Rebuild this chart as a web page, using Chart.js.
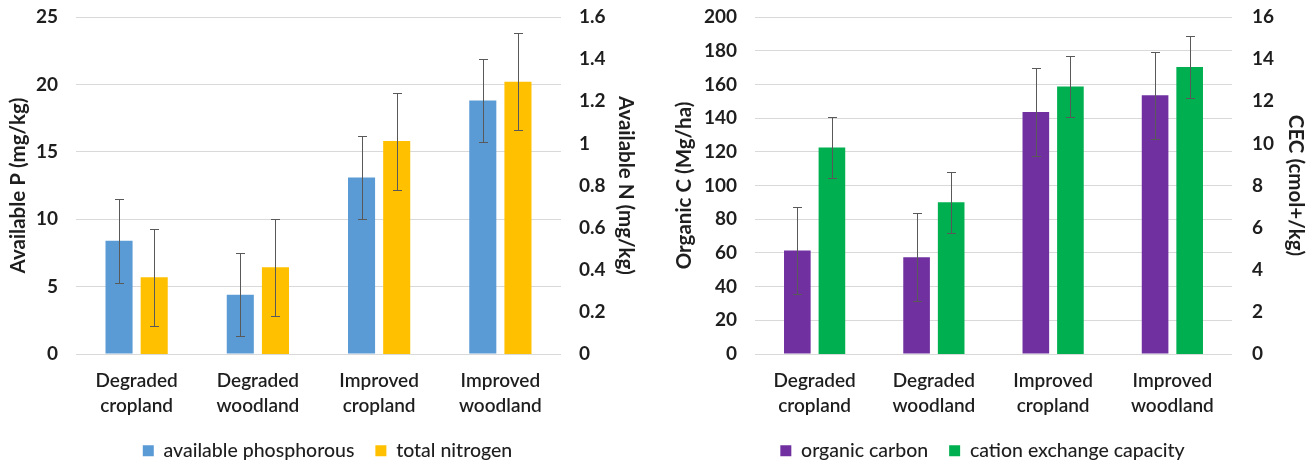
<!DOCTYPE html>
<html>
<head>
<meta charset="utf-8">
<script src="https://cdn.jsdelivr.net/npm/chart.js@4.4.1/dist/chart.umd.min.js"></script>
<style>
  html, body { margin: 0; padding: 0; background: #fff; }
  .wrap { display: flex; width: 1310px; height: 462px; }
  .box { position: relative; width: 655px; height: 462px; }
</style>
</head>
<body>
<div class="wrap">
  <div class="box"><canvas id="chartNP" width="655" height="462"></canvas></div>
  <div class="box"><canvas id="chartCEC" width="655" height="462"></canvas></div>
</div>
<script>
const categories = [["Degraded", "cropland"], ["Degraded", "woodland"], ["Improved", "cropland"], ["Improved", "woodland"]];

// left chart
const phosphorous = [8.4, 4.4, 13.1, 18.8];
const phosphorousErr = [3.1, 3.1, 3.1, 3.1];
const nitrogen = [0.364, 0.412, 1.011, 1.293];
const nitrogenErr = [0.23, 0.23, 0.23, 0.23];

// right chart
const organicCarbon = [61.4, 57.4, 143.6, 153.5];
const organicCarbonErr = [26, 26, 26, 26];
const cec = [9.8, 7.2, 12.7, 13.63];
const cecErr = [1.46, 1.46, 1.46, 1.46];

const fontFamily = "Lato, 'Open Sans', sans-serif";
const textColor = "#1e1e1e";

// draws the error bars from each dataset's errors array
const errorBars = {
    id: "errorBars",
    afterDatasetsDraw(chart) {
        const ctx = chart.ctx;
        chart.data.datasets.forEach((ds, i) => {
            if (!ds.errors) return;
            const meta = chart.getDatasetMeta(i);
            const scale = chart.scales[meta.yAxisID];
            ctx.save();
            ctx.strokeStyle = "#595959";
            ctx.lineWidth = 1;
            meta.data.forEach((bar, j) => {
                const x = Math.round(bar.x) + 0.5;
                const top = Math.round(scale.getPixelForValue(ds.data[j] + ds.errors[j])) + 0.5;
                const bottom = Math.round(scale.getPixelForValue(ds.data[j] - ds.errors[j])) + 0.5;
                ctx.beginPath();
                ctx.moveTo(x, top);
                ctx.lineTo(x, bottom);
                ctx.moveTo(x - 4.5, top);
                ctx.lineTo(x + 4.5, top);
                ctx.moveTo(x - 4.5, bottom);
                ctx.lineTo(x + 4.5, bottom);
                ctx.stroke();
            });
            ctx.restore();
        });
    }
};

// legend sits low under the labels, like the excel one
const legendHeight = {
    id: "legendHeight",
    beforeLayout(chart) {
        const lg = chart.legend;
        if (lg && !lg._fixed) {
            const fit = lg.fit.bind(lg);
            lg.fit = function () {
                fit();
                this.height = 42;
            };
            lg._fixed = true;
        }
    }
};

const tickText = v => String(Math.round(v * 10) / 10);

const makeChart = (canvas, cfg) => {
    return new Chart(document.getElementById(canvas), {
        type: "bar",
        data: {
            labels: categories,
            datasets: [
                {
                    label: cfg.names[0],
                    data: cfg.left,
                    errors: cfg.leftErr,
                    backgroundColor: cfg.colors[0],
                    yAxisID: "y",
                    categoryPercentage: 0.58,
                    barPercentage: 0.77,
                },
                {
                    label: cfg.names[1],
                    data: cfg.right,
                    errors: cfg.rightErr,
                    backgroundColor: cfg.colors[1],
                    yAxisID: "y1",
                    categoryPercentage: 0.58,
                    barPercentage: 0.77,
                }
            ]
        },
        options: {
            responsive: false,
            animation: false,
            layout: { padding: { top: 17, bottom: 0, left: 0, right: 0 } },
            plugins: {
                tooltip: { enabled: false },
                legend: {
                    position: "bottom",
                    labels: {
                        boxWidth: 11,
                        boxHeight: 11,
                        padding: 21,
                        color: textColor,
                        font: { family: fontFamily, size: 19.5, weight: 500 }
                    }
                }
            },
            scales: {
                x: {
                    grid: { display: false },
                    border: { display: false },
                    ticks: {
                        color: textColor,
                        padding: 7,
                        maxRotation: 0,
                        font: { family: fontFamily, size: 19, weight: 600, lineHeight: 1.3 }
                    },
                    afterFit: scale => { scale.height = 66; }
                },
                y: {
                    position: "left",
                    min: 0,
                    max: cfg.leftMax,
                    grid: { color: "#d9d9d9", drawTicks: false },
                    border: { display: false },
                    ticks: {
                        stepSize: cfg.leftStep,
                        padding: 18,
                        color: textColor,
                        callback: tickText,
                        font: { family: fontFamily, size: 19, weight: "bold" }
                    },
                    title: {
                        display: true,
                        text: cfg.titles[0],
                        color: textColor,
                        padding: { top: cfg.titlePad[0], bottom: 0 },
                        font: { family: fontFamily, size: 20.5, weight: "bold" }
                    },
                    afterFit: scale => {
                        scale.width = cfg.axisWidth[0];
                        scale.paddingTop = 0;
                        scale.paddingBottom = 0;
                    }
                },
                y1: {
                    position: "right",
                    min: 0,
                    max: cfg.rightMax,
                    grid: { display: false, drawTicks: false },
                    border: { display: false },
                    ticks: {
                        stepSize: cfg.rightStep,
                        padding: cfg.rightTickPad,
                        color: textColor,
                        callback: tickText,
                        font: { family: fontFamily, size: 19, weight: "bold" }
                    },
                    title: {
                        display: true,
                        text: cfg.titles[1],
                        color: textColor,
                        padding: { top: cfg.titlePad[1], bottom: 0 },
                        font: { family: fontFamily, size: 20.5, weight: "bold" }
                    },
                    afterFit: scale => {
                        scale.width = cfg.axisWidth[1];
                        scale.paddingTop = 0;
                        scale.paddingBottom = 0;
                    }
                }
            }
        },
        plugins: [errorBars, legendHeight]
    });
};

makeChart("chartNP", {
    names: ["available phosphorous", "total nitrogen"],
    colors: ["#5B9BD5", "#FFC000"],
    left: phosphorous, leftErr: phosphorousErr,
    right: nitrogen, rightErr: nitrogenErr,
    leftMax: 25, leftStep: 5,
    rightMax: 1.6, rightStep: 0.2,
    titles: ["Available P (mg/kg)", "Available N (mg/kg)"],
    titlePad: [6.5, 17.5],
    axisWidth: [76, 94],
    rightTickPad: 18
});

makeChart("chartCEC", {
    names: ["organic carbon", "cation exchange capacity"],
    colors: ["#7030A0", "#00B050"],
    left: organicCarbon, leftErr: organicCarbonErr,
    right: cec, rightErr: cecErr,
    leftMax: 200, leftStep: 20,
    rightMax: 16, rightStep: 2,
    titles: ["Organic C (Mg/ha)", "CEC (cmol+/kg)"],
    titlePad: [17.5, 2.5],
    axisWidth: [100, 78],
    rightTickPad: 20
});
</script>
</body>
</html>
